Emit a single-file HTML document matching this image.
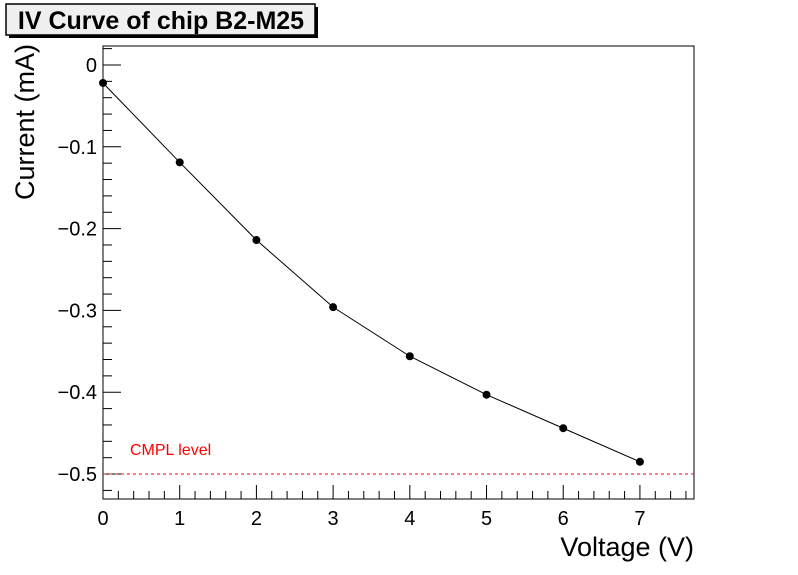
<!DOCTYPE html>
<html><head><meta charset="utf-8"><style>body{margin:0;background:#fff}svg{display:block}</style></head>
<body>
<svg id="c" width="798" height="575" xmlns="http://www.w3.org/2000/svg" font-family="Liberation Sans, Arial, sans-serif">
<rect x="0" y="0" width="798" height="575" fill="#fff"/>
<rect x="9" y="7" width="309" height="31" fill="#000"/>
<rect x="6" y="4" width="309" height="31" fill="#f0f0f0" stroke="#000" stroke-width="1.5"/>
<text x="161" y="29" text-anchor="middle" font-size="25" font-weight="bold">IV Curve of chip B2-M25</text>
<rect x="103" y="46" width="591" height="453" fill="none" stroke="#000" stroke-width="1"/>
<g id="axes"></g>
<g id="marks"></g>
<text x="694" y="556" text-anchor="end" font-size="27">Voltage (V)</text>
<text transform="translate(34,200) rotate(-90)" text-anchor="start" font-size="27">Current (mA)</text>
<text x="130" y="455" font-size="16" fill="#ff0000">CMPL level</text>
</svg>
<script>
const voltages=[0,1,2,3,4,5,6,7];
const currents=[-0.022,-0.119,-0.214,-0.296,-0.356,-0.403,-0.444,-0.485];
const xTicks=[0,1,2,3,4,5,6,7];
const yTicks=[0,-0.1,-0.2,-0.3,-0.4,-0.5];
const yTickLabels=["0","\u22120.1","\u22120.2","\u22120.3","\u22120.4","\u22120.5"];
const cmplLevel=-0.5;
const X0=103,X1=694,Y0=46,Y1=499,xmin=0,xmax=7.705,ymin=-0.5305,ymax=0.0232;
const sx=v=>X0+(v-xmin)/(xmax-xmin)*(X1-X0);
const sy=v=>Y1-(v-ymin)/(ymax-ymin)*(Y1-Y0);
const NS="http://www.w3.org/2000/svg";
function mk(t,a,p){const e=document.createElementNS(NS,t);for(const k in a)e.setAttribute(k,a[k]);p.appendChild(e);return e;}
const ax=document.getElementById('axes'),mg=document.getElementById('marks');
for(let i=0;i*0.2<=xmax+1e-9;i++){const v=i*0.2;const maj=i%5===0;
 const t=mk('line',{x1:sx(v),x2:sx(v),y1:Y1,y2:Y1-(maj?14:8),stroke:'#000'},ax);
 
 }
xTicks.forEach(v=>{const t=mk('text',{x:sx(v),y:Y1+26,'text-anchor':'middle','font-size':20},ax);t.textContent=String(v);
 
 });
for(let i=1;i>=-27;i--){const v=i*0.02;if(v>ymax||v<ymin)continue;const maj=i%5===0;
 const t=mk('line',{x1:X0,x2:X0+(maj?18:9),y1:sy(v),y2:sy(v),stroke:'#000'},ax);
 
 }
yTicks.forEach((v,i)=>{const t=mk('text',{x:X0-6,y:sy(v)+7,'text-anchor':'end','font-size':20},ax);t.textContent=yTickLabels[i];
 
 });
const cl=mk('line',{x1:X0,x2:X1,y1:sy(cmplLevel),y2:sy(cmplLevel),stroke:'#ff0000','stroke-dasharray':'3,3'},mg);


const pl=mk('polyline',{points:voltages.map((v,i)=>sx(v)+','+sy(currents[i])).join(' '),fill:'none',stroke:'#000','stroke-width':1},mg);


voltages.forEach((v,i)=>{const c=mk('circle',{cx:sx(v),cy:sy(currents[i]),r:4,fill:'#000'},mg);
 
 });
</script>
</body></html>
